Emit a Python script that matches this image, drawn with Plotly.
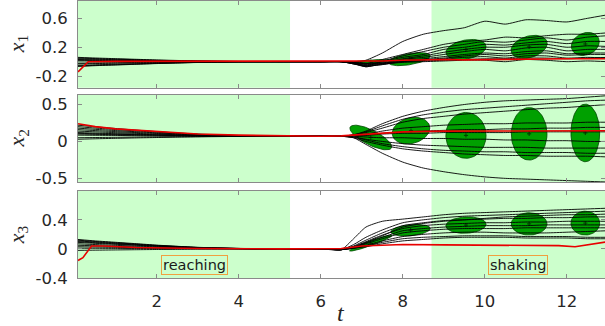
import numpy as np
import plotly.graph_objects as go
from plotly.subplots import make_subplots

# ---------------- data ----------------
T = [0.08, 0.5, 1.0, 1.5, 2.0, 2.5, 3.0, 4.0, 5.0, 6.0, 6.5, 6.8, 7.1, 7.5, 8.0,
     8.5, 9.0, 9.5, 10.0, 10.5, 11.0, 11.5, 12.0, 12.5, 13.0]

x1_runs = [
    [0.05, 0.043, 0.035, 0.028, 0.02, 0.014, 0.009, 0.003, 0, 0, 0, -0.01, 0.02, 0.12, 0.28, 0.38, 0.43, 0.47, 0.56, 0.52, 0.58, 0.57, 0.55, 0.6, 0.65],
    [0.04, 0.034, 0.028, 0.022, 0.016, 0.011, 0.007, 0.002, 0, 0, 0, -0.02, -0.03, 0.03, 0.1, 0.17, 0.24, 0.28, 0.3, 0.34, 0.33, 0.36, 0.38, 0.38, 0.40],
    [0.03, 0.026, 0.021, 0.017, 0.012, 0.008, 0.005, 0.002, 0, 0, 0, -0.03, -0.05, 0.01, 0.08, 0.14, 0.2, 0.24, 0.28, 0.27, 0.3, 0.33, 0.3, 0.34, 0.36],
    [0.02, 0.017, 0.014, 0.011, 0.008, 0.006, 0.003, 0.001, 0, 0, 0, -0.03, -0.06, 0.0, 0.06, 0.1, 0.17, 0.2, 0.24, 0.23, 0.26, 0.28, 0.25, 0.28, 0.28],
    [0.01, 0.009, 0.007, 0.006, 0.004, 0.003, 0.002, 0.001, 0, 0, 0, -0.02, -0.07, -0.02, 0.04, 0.08, 0.13, 0.17, 0.2, 0.2, 0.23, 0.24, 0.2, 0.22, 0.21],
    [-0.02, -0.017, -0.014, -0.011, -0.008, -0.006, -0.003, -0.001, 0, 0, 0, -0.03, -0.07, -0.03, 0.03, 0.06, 0.1, 0.14, 0.17, 0.15, 0.19, 0.2, 0.15, 0.17, 0.17],
    [-0.03, -0.026, -0.021, -0.017, -0.012, -0.008, -0.005, -0.002, 0, 0, 0, -0.02, -0.06, -0.04, 0.01, 0.04, 0.07, 0.1, 0.12, 0.11, 0.14, 0.15, 0.11, 0.12, 0.12],
    [-0.05, -0.043, -0.035, -0.028, -0.02, -0.014, -0.009, -0.003, 0, 0, 0, -0.02, -0.05, -0.04, 0.0, 0.02, 0.04, 0.06, 0.07, 0.05, 0.08, 0.08, 0.05, 0.06, 0.05],
    [-0.06, -0.051, -0.042, -0.033, -0.024, -0.017, -0.01, -0.003, 0, 0, 0, -0.01, -0.04, -0.03, -0.01, 0.0, 0.01, 0.02, 0.02, 0.0, 0.03, 0.02, 0.0, 0.01, 0.0],
    [0.06, 0.051, 0.042, 0.033, 0.024, 0.017, 0.01, 0.003, 0, 0, 0, -0.01, -0.03, -0.02, 0.01, 0.03, 0.05, 0.08, 0.1, 0.08, 0.11, 0.12, 0.09, 0.1, 0.1],
    [-0.065, -0.055, -0.046, -0.036, -0.026, -0.018, -0.011, -0.003, 0, 0, 0, 0.0, -0.02, -0.02, 0.0, 0.01, 0.02, 0.03, 0.04, 0.04, 0.05, 0.05, 0.04, 0.05, 0.06],
]

x2_runs = [
    [0.22, 0.198, 0.175, 0.153, 0.133, 0.115, 0.1, 0.079, 0.072, 0.07, 0.07, 0.09, 0.14, 0.24, 0.34, 0.41, 0.46, 0.5, 0.53, 0.55, 0.56, 0.57, 0.58, 0.6, 0.62],
    [0.2, 0.181, 0.161, 0.142, 0.125, 0.109, 0.096, 0.078, 0.071, 0.07, 0.07, 0.09, 0.13, 0.21, 0.3, 0.36, 0.4, 0.43, 0.45, 0.47, 0.49, 0.51, 0.53, 0.55, 0.56],
    [0.18, 0.164, 0.147, 0.131, 0.116, 0.103, 0.092, 0.077, 0.071, 0.07, 0.07, 0.085, 0.12, 0.18, 0.26, 0.31, 0.34, 0.37, 0.39, 0.41, 0.43, 0.45, 0.46, 0.48, 0.5],
    [0.16, 0.147, 0.133, 0.12, 0.108, 0.097, 0.088, 0.075, 0.071, 0.07, 0.07, 0.08, 0.1, 0.14, 0.18, 0.2, 0.22, 0.23, 0.24, 0.24, 0.25, 0.25, 0.25, 0.26, 0.26],
    [0.14, 0.13, 0.119, 0.109, 0.099, 0.091, 0.084, 0.074, 0.071, 0.07, 0.07, 0.08, 0.09, 0.11, 0.13, 0.14, 0.15, 0.16, 0.16, 0.17, 0.17, 0.18, 0.18, 0.19, 0.19],
    [0.12, 0.113, 0.105, 0.098, 0.091, 0.085, 0.08, 0.073, 0.07, 0.07, 0.07, 0.07, 0.06, 0.05, 0.05, 0.04, 0.04, 0.03, 0.03, 0.02, 0.02, 0.01, 0.01, 0.0, 0.0],
    [0.1, 0.096, 0.091, 0.087, 0.083, 0.079, 0.076, 0.072, 0.07, 0.07, 0.07, 0.06, 0.03, 0.0, -0.03, -0.05, -0.06, -0.07, -0.08, -0.08, -0.08, -0.09, -0.09, -0.09, -0.09],
    [0.085, 0.083, 0.081, 0.078, 0.076, 0.075, 0.073, 0.071, 0.07, 0.07, 0.07, 0.06, 0.02, -0.03, -0.07, -0.1, -0.12, -0.13, -0.14, -0.14, -0.15, -0.15, -0.15, -0.16, -0.16],
    [0.05, 0.053, 0.056, 0.059, 0.062, 0.064, 0.066, 0.069, 0.07, 0.07, 0.07, 0.05, 0.0, -0.05, -0.1, -0.13, -0.15, -0.17, -0.18, -0.19, -0.19, -0.2, -0.2, -0.2, -0.21],
    [0.03, 0.036, 0.042, 0.048, 0.053, 0.058, 0.062, 0.068, 0.07, 0.07, 0.07, 0.05, -0.04, -0.16, -0.28, -0.36, -0.41, -0.45, -0.48, -0.5, -0.51, -0.52, -0.53, -0.54, -0.55],
    [0.11, 0.104, 0.098, 0.092, 0.087, 0.082, 0.078, 0.072, 0.07, 0.07, 0.07, 0.075, 0.08, 0.1, 0.11, 0.11, 0.12, 0.12, 0.12, 0.12, 0.13, 0.13, 0.13, 0.13, 0.13],
]

x3_runs = [
    [0.13, 0.11, 0.091, 0.072, 0.052, 0.036, 0.022, 0.007, 0, 0, -0.01, 0.14, 0.3, 0.38, 0.41, 0.44, 0.47, 0.49, 0.5, 0.51, 0.52, 0.53, 0.54, 0.55, 0.56],
    [0.12, 0.102, 0.084, 0.066, 0.048, 0.034, 0.02, 0.006, 0, 0, -0.01, 0.06, 0.16, 0.26, 0.36, 0.4, 0.43, 0.45, 0.46, 0.47, 0.48, 0.49, 0.5, 0.51, 0.52],
    [0.1, 0.085, 0.07, 0.055, 0.04, 0.028, 0.017, 0.005, 0, 0, -0.01, 0.04, 0.12, 0.22, 0.32, 0.36, 0.39, 0.4, 0.41, 0.42, 0.42, 0.43, 0.43, 0.44, 0.44],
    [0.09, 0.077, 0.063, 0.05, 0.036, 0.025, 0.015, 0.005, 0, 0, -0.01, 0.03, 0.1, 0.19, 0.28, 0.32, 0.34, 0.35, 0.36, 0.36, 0.37, 0.37, 0.38, 0.38, 0.38],
    [0.07, 0.06, 0.049, 0.039, 0.028, 0.02, 0.012, 0.004, 0, 0, -0.01, 0.02, 0.08, 0.16, 0.25, 0.28, 0.3, 0.31, 0.32, 0.32, 0.32, 0.33, 0.33, 0.33, 0.33],
    [0.05, 0.043, 0.035, 0.028, 0.02, 0.014, 0.009, 0.003, 0, 0, -0.01, 0.02, 0.07, 0.14, 0.22, 0.25, 0.27, 0.28, 0.28, 0.28, 0.29, 0.29, 0.29, 0.29, 0.29],
    [0.03, 0.026, 0.021, 0.017, 0.012, 0.008, 0.005, 0.002, 0, 0, -0.01, 0.01, 0.05, 0.11, 0.17, 0.2, 0.22, 0.23, 0.23, 0.22, 0.22, 0.22, 0.23, 0.24, 0.25],
    [0.01, 0.009, 0.007, 0.006, 0.004, 0.003, 0.002, 0.001, 0, 0, -0.01, 0.01, 0.04, 0.09, 0.14, 0.16, 0.17, 0.18, 0.18, 0.18, 0.17, 0.17, 0.17, 0.16, 0.16],
    [-0.02, -0.017, -0.014, -0.011, -0.008, -0.006, -0.003, -0.001, 0, 0, -0.01, 0.01, 0.03, 0.07, 0.11, 0.13, 0.15, 0.16, 0.16, 0.16, 0.15, 0.15, 0.15, 0.14, 0.14],
    [0.11, 0.094, 0.077, 0.061, 0.044, 0.031, 0.019, 0.006, 0, 0, -0.01, 0.03, 0.09, 0.18, 0.3, 0.35, 0.38, 0.4, 0.42, 0.44, 0.45, 0.46, 0.47, 0.47, 0.48],
]

red1_t = [0.08, 0.33, 1, 3, 5, 6, 6.5, 7, 7.5, 8, 8.5, 9, 9.5, 10, 10.5, 11, 11.5, 12, 12.5, 13]
red1_v = [-0.14, 0.0, 0.005, 0.005, 0.0, 0.0, 0.0, 0.005, 0.01, 0.02, 0.03, 0.03, 0.025, 0.03, 0.035, 0.03, 0.035, 0.04, 0.04, 0.04]
red2_t = [0.08, 0.5, 1, 2, 3, 4, 5, 6, 6.5, 7, 7.5, 8, 9, 10, 11, 12, 13]
red2_v = [0.24, 0.2, 0.17, 0.13, 0.1, 0.085, 0.075, 0.07, 0.075, 0.09, 0.11, 0.13, 0.14, 0.14, 0.14, 0.145, 0.145]
red3_t = [0.08, 0.2, 0.41, 0.7, 1.5, 3, 5, 6, 6.5, 7, 7.5, 8, 9, 10, 11, 11.8, 12.2, 12.6, 13]
red3_v = [-0.16, -0.12, 0.04, 0.04, 0.02, 0.005, 0.0, 0.0, 0.005, 0.04, 0.055, 0.06, 0.055, 0.055, 0.05, 0.045, 0.03, 0.06, 0.1]

# ellipses: centre t, centre v, half-width in t, half-height in v, correlation
ell1 = dict(t=[7.22, 8.16, 9.54, 11.08, 12.45], v=[0.0, 0.035, 0.168, 0.205, 0.245],
            a=[0.5, 0.51, 0.49, 0.44, 0.34], b=[0.03, 0.09, 0.14, 0.16, 0.16], rho=[0.6, 0.5, 0.3, 0.3, 0.2])
ell2 = dict(t=[7.22, 8.2, 9.54, 11.08, 12.45], v=[0.053, 0.146, 0.082, 0.103, 0.115],
            a=[0.51, 0.46, 0.49, 0.435, 0.35], b=[0.167, 0.18, 0.31, 0.355, 0.39], rho=[-0.75, 0.2, 0.0, 0.0, 0.0])
ell3 = dict(t=[7.22, 8.19, 9.54, 11.08, 12.45], v=[0.08, 0.257, 0.328, 0.344, 0.355],
            a=[0.52, 0.48, 0.49, 0.435, 0.35], b=[0.11, 0.08, 0.113, 0.153, 0.164], rho=[0.95, 0.3, 0.1, 0.0, 0.0])

reaching_phase = [0.0, 5.25]
shaking_phase = [8.7, 13.5]

y_ranges = [[-0.36, 0.84], [-0.555, 0.63], [-0.4, 0.8]]
y_tickvals = [[-0.2, 0.2, 0.6], [-0.5, 0, 0.5], [-0.4, 0, 0.4]]
y_ticktext = [["-0.2", "0.2", "0.6"], ["-0.5", "0", "0.5"], ["-0.4", "0", "0.4"]]
y_titles = ["<i>x</i><sub>1</sub>", "<i>x</i><sub>2</sub>", "<i>x</i><sub>3</sub>"]
x_tickvals = [2, 4, 6, 8, 10, 12]

# ---------------- figure ----------------
fig = make_subplots(rows=3, cols=1, shared_xaxes=True, vertical_spacing=0.02)

theta = np.linspace(0, 2 * np.pi, 80)
for r, ell in zip((1, 2, 3), (ell1, ell2, ell3)):
    for ct, cv, a, b, rho in zip(ell["t"], ell["v"], ell["a"], ell["b"], ell["rho"]):
        xs = ct + a * np.cos(theta)
        ys = cv + b * (rho * np.cos(theta) + np.sqrt(1 - rho ** 2) * np.sin(theta))
        fig.add_trace(go.Scatter(x=xs, y=ys, mode="lines", fill="toself",
                                 fillcolor="rgb(0,160,0)",
                                 line=dict(color="rgb(0,70,0)", width=0.8),
                                 hoverinfo="skip", showlegend=False), row=r, col=1)
        fig.add_trace(go.Scatter(x=[ct], y=[cv], mode="markers",
                                 marker=dict(symbol="cross-thin", size=3,
                                             line=dict(color="rgb(0,60,0)", width=1)),
                                 hoverinfo="skip", showlegend=False), row=r, col=1)

for r, runs in zip((1, 2, 3), (x1_runs, x2_runs, x3_runs)):
    for run in runs:
        fig.add_trace(go.Scatter(x=T, y=run, mode="lines",
                                 line=dict(color="black", width=0.9, shape="spline", smoothing=0.6),
                                 hoverinfo="skip", showlegend=False), row=r, col=1)

for r, (rt, rv) in zip((1, 2, 3), ((red1_t, red1_v), (red2_t, red2_v), (red3_t, red3_v))):
    fig.add_trace(go.Scatter(x=rt, y=rv, mode="lines",
                             line=dict(color="#e80000", width=1.6),
                             hoverinfo="skip", showlegend=False), row=r, col=1)

LIGHT = "#ccffcc"
for r in (1, 2, 3):
    for ph in (reaching_phase, shaking_phase):
        fig.add_vrect(x0=ph[0], x1=ph[1], fillcolor=LIGHT, opacity=1, line_width=0,
                      layer="below", row=r, col=1, exclude_empty_subplots=False)

tickfont = dict(family="DejaVu Sans, sans-serif", size=16.5, color="#262626")
axis_common = dict(showline=True, linecolor="#8a8a8a", linewidth=1, mirror="ticks",
                   ticks="inside", ticklen=4, tickcolor="#8a8a8a", showgrid=False,
                   zeroline=False, tickfont=tickfont, automargin=False)

domains = [[0.687, 1.0], [0.345, 0.661], [0.0, 0.315]]
for i in range(3):
    fig.update_yaxes(range=y_ranges[i], tickvals=y_tickvals[i], ticktext=y_ticktext[i],
                     domain=domains[i], ticklabelstandoff=6,
                     **axis_common, row=i + 1, col=1)
    fig.update_xaxes(range=[0.08, 12.93], tickvals=x_tickvals, ticklabelstandoff=8,
                     **axis_common, row=i + 1, col=1)

title_font = dict(family="Liberation Serif, serif", size=22, color="#262626")
for i in range(3):
    fig.add_annotation(x=-0.114, y=sum(domains[i]) / 2, xref="paper", yref="paper",
                       text=y_titles[i], textangle=-90, showarrow=False, font=title_font,
                       xanchor="center", yanchor="middle")
fig.add_annotation(x=6.5, y=-0.127, xref="x3", yref="paper", text="<i>t</i>",
                   showarrow=False, font=dict(family="Liberation Serif, serif", size=24, color="#262626"),
                   xanchor="center", yanchor="middle")

ann_font = dict(family="DejaVu Sans, sans-serif", size=14.5, color="#1a1a1a")
fig.add_annotation(x=2.91, y=-0.225, xref="x3", yref="y3", text="reaching", showarrow=False,
                   font=ann_font, bordercolor="#f0a040", borderwidth=1, borderpad=1)
fig.add_annotation(x=10.81, y=-0.225, xref="x3", yref="y3", text="shaking", showarrow=False,
                   font=ann_font, bordercolor="#f0a040", borderwidth=1, borderpad=1)

fig.update_layout(width=605, height=326, margin=dict(l=78, r=0, t=1, b=48),
                  paper_bgcolor="white", plot_bgcolor="white", showlegend=False)

fig.write_html("out.html", config={"displayModeBar": False},
               post_script="document.body.style.margin='0';document.body.style.overflow='hidden';")
